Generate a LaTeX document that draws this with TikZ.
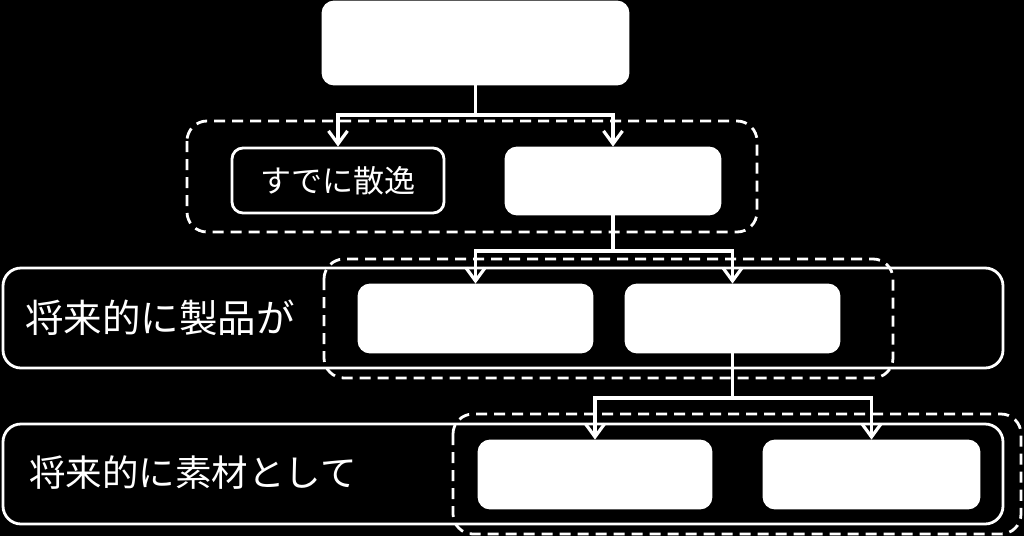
\documentclass[tikz,border=0pt]{standalone}
\usepackage{fontspec}
\newfontfamily\jp{Noto Sans CJK JP}
\usetikzlibrary{arrows.meta}
\begin{document}
\begin{tikzpicture}[x=1pt,y=-1pt,
  wbox/.style={draw=white,fill=white,line width=2.8pt,rounded corners=11pt,inner sep=0pt},
  kbox/.style={draw=white,fill=black,line width=2.8pt,rounded corners=11pt,inner sep=0pt,text=white,font=\jp\fontsize{31}{36}\selectfont},
  band/.style={draw=white,line width=2.8pt,rounded corners=18pt},
  grp/.style={draw=white,line width=2.8pt,dash pattern=on 11pt off 7pt,rounded corners=20pt},
  conn/.style={draw=white,line width=3.8pt},
  arr/.style={conn,-{Straight Barb[length=13pt,width=19pt,line width=3.2pt]}},
  lab/.style={text=white,anchor=west,inner sep=0pt}]
\fill[black] (0,0) rectangle (1024,536);
\useasboundingbox (0,0) rectangle (1024,536);
% bands
\draw[band] (3,268) rectangle (1003,368);
\draw[band] (3,424) rectangle (1003,524);
\node[lab,font=\jp\fontsize{38.5}{44}\selectfont] (t2) at (25,318) {将来的に製品が};
\node[lab,font=\jp\fontsize{36.5}{44}\selectfont] (t3) at (29,473) {将来的に素材として};
% groups
\draw[grp] (187,121) rectangle (757,232);
\draw[grp] (324,259) rectangle (893,378);
\draw[grp] (453,414) rectangle (1021,534);
% boxes
\node[wbox,minimum width=305pt,minimum height=82pt] (top) at (475.5,43) {};
\node[kbox,minimum width=212pt,minimum height=65pt] (b1) at (338,180.5) {すでに散逸};
\node[wbox,minimum width=214pt,minimum height=66pt] (b2) at (613,181) {};
\node[wbox,minimum width=233pt,minimum height=67pt] (b3) at (475.5,318.5) {};
\node[wbox,minimum width=213pt,minimum height=67pt] (b4) at (732.5,318.5) {};
\node[wbox,minimum width=232pt,minimum height=67pt] (b5) at (595,474.5) {};
\node[wbox,minimum width=215pt,minimum height=67pt] (b6) at (871.5,474.5) {};
% connectors
\coordinate (j1) at (475.5,115);
\coordinate (j2) at (613,251);
\coordinate (j3) at (732.5,398);
\draw[conn] (top.south) -- (j1);
\draw[arr] (j1) -| (b1.north);
\draw[arr] (j1) -| (b2.north);
\draw[conn] (b2.south) -- (j2);
\draw[arr] (j2) -| (b3.north);
\draw[arr] (j2) -| (b4.north);
\draw[conn] (b4.south) -- (j3);
\draw[arr] (j3) -| (b5.north);
\draw[arr] (j3) -| (b6.north);
\end{tikzpicture}
\end{document}
